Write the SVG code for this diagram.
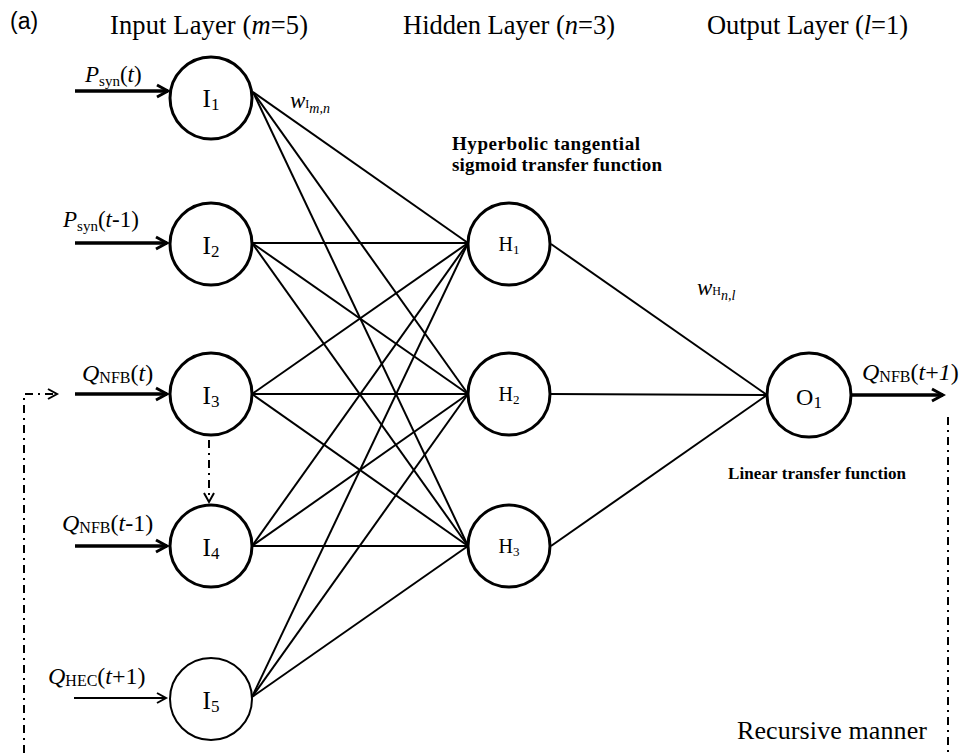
<svg xmlns="http://www.w3.org/2000/svg" width="969" height="753" viewBox="0 0 969 753">
<style>
.t{font-family:"Liberation Serif","Times New Roman",serif;fill:#000}
.i{font-style:italic}
.node{fill:#fff;stroke:#000;stroke-width:3}
.thin{stroke-width:2}
.c{stroke:#000;stroke-width:2;fill:none}
.in{stroke:#000;stroke-width:3.5;fill:none}
.dd{stroke:#000;stroke-width:2;fill:none;stroke-dasharray:8 5 2 5}
.fn{font-weight:bold}
</style>
<defs>
<marker id="ah" markerUnits="userSpaceOnUse" markerWidth="16" markerHeight="16" refX="13" refY="8" orient="auto">
<path d="M2,2 L13,8 L2,14" fill="none" stroke="#000" stroke-width="3"/>
</marker>
<marker id="ahs" markerUnits="userSpaceOnUse" markerWidth="16" markerHeight="16" refX="12" refY="8" orient="auto">
<path d="M3,3 L12,8 L3,13" fill="none" stroke="#000" stroke-width="2"/>
</marker>
</defs>
<rect width="969" height="753" fill="#fff"/>

<text x="10" y="29" style="font-family:'Liberation Sans',Arial,sans-serif;font-size:23px">(a)</text>
<text class="t" x="110" y="34" font-size="26.5" textLength="198">Input Layer (<tspan class="i">m</tspan>=5)</text>
<text class="t" x="403" y="34" font-size="26.5" textLength="212">Hidden Layer (<tspan class="i">n</tspan>=3)</text>
<text class="t" x="707" y="34" font-size="26.5" textLength="201">Output Layer (<tspan class="i">l</tspan>=1)</text>

<g id="connectors">
<line class="c" x1="253" y1="92" x2="468" y2="243"/>
<line class="c" x1="253" y1="92" x2="468" y2="394"/>
<line class="c" x1="253" y1="92" x2="468" y2="546"/>
<line class="c" x1="252" y1="243" x2="468" y2="243"/>
<line class="c" x1="252" y1="243" x2="468" y2="394"/>
<line class="c" x1="252" y1="243" x2="468" y2="546"/>
<line class="c" x1="252" y1="394" x2="468" y2="243"/>
<line class="c" x1="252" y1="394" x2="468" y2="394"/>
<line class="c" x1="252" y1="394" x2="468" y2="546"/>
<line class="c" x1="252" y1="546" x2="468" y2="243"/>
<line class="c" x1="252" y1="546" x2="468" y2="394"/>
<line class="c" x1="252" y1="546" x2="468" y2="546"/>
<line class="c" x1="252" y1="697" x2="468" y2="243"/>
<line class="c" x1="252" y1="697" x2="468" y2="394"/>
<line class="c" x1="252" y1="697" x2="468" y2="546"/>
<line class="c" x1="551" y1="244" x2="767" y2="395"/>
<line class="c" x1="550" y1="394" x2="767" y2="395"/>
<line class="c" x1="551" y1="546" x2="767" y2="395"/>
<line class="in" x1="75" y1="91" x2="168" y2="91" marker-end="url(#ah)"/>
<line class="in" x1="75" y1="243" x2="167" y2="243" marker-end="url(#ah)"/>
<line class="in" x1="75" y1="394" x2="167" y2="394" marker-end="url(#ah)"/>
<line class="in" x1="75" y1="546" x2="167" y2="546" marker-end="url(#ah)"/>
<line class="c" x1="74" y1="698" x2="166" y2="698" marker-end="url(#ahs)"/>
<line class="in" x1="852" y1="395" x2="943" y2="395" marker-end="url(#ah)"/>
<line class="dd" x1="209" y1="440" x2="209" y2="502" marker-end="url(#ahs)"/>
<polyline class="dd" points="24,753 24,394 57,394" marker-end="url(#ahs)"/>
<line class="dd" x1="948" y1="417" x2="948" y2="753"/>
</g>

<g id="I1"><circle class="node" cx="211" cy="98" r="41"/><text class="t" x="211" y="107" font-size="25" text-anchor="middle">I<tspan font-size="17" dy="3">1</tspan></text></g>
<g id="I2"><circle class="node" cx="211" cy="244" r="41"/><text class="t" x="211" y="254" font-size="25" text-anchor="middle">I<tspan font-size="17" dy="3">2</tspan></text></g>
<g id="I3"><circle class="node" cx="211" cy="394" r="41"/><text class="t" x="211" y="404" font-size="25" text-anchor="middle">I<tspan font-size="17" dy="3">3</tspan></text></g>
<g id="I4"><circle class="node" cx="211" cy="546" r="41"/><text class="t" x="211" y="556" font-size="25" text-anchor="middle">I<tspan font-size="17" dy="3">4</tspan></text></g>
<g id="I5"><circle class="node thin" cx="211" cy="699" r="41"/><text class="t" x="211" y="709" font-size="25" text-anchor="middle">I<tspan font-size="17" dy="3">5</tspan></text></g>

<g id="H1"><circle class="node" cx="509" cy="244" r="41"/><text class="t" x="509" y="251" font-size="20" text-anchor="middle">H<tspan font-size="13" dy="3">1</tspan></text></g>
<g id="H2"><circle class="node" cx="509" cy="394" r="41"/><text class="t" x="509" y="401" font-size="20" text-anchor="middle">H<tspan font-size="13" dy="3">2</tspan></text></g>
<g id="H3"><circle class="node" cx="509" cy="546" r="41"/><text class="t" x="509" y="553" font-size="20" text-anchor="middle">H<tspan font-size="13" dy="3">3</tspan></text></g>

<g id="O1"><circle class="node" cx="809" cy="395" r="42"/><text class="t" x="809" y="405" font-size="24" text-anchor="middle">O<tspan font-size="17" dy="3">1</tspan></text></g>

<text class="t" x="85" y="82" font-size="23"><tspan class="i">P</tspan><tspan font-size="15" dy="4">syn</tspan><tspan dy="-4">(</tspan><tspan class="i">t</tspan>)</text>
<text class="t" x="63" y="227" font-size="23"><tspan class="i">P</tspan><tspan font-size="15" dy="4">syn</tspan><tspan dy="-4">(</tspan><tspan class="i">t</tspan>-1)</text>
<text class="t" x="82" y="381" font-size="24"><tspan class="i">Q</tspan><tspan font-size="16" dy="2">NFB</tspan><tspan dy="-2">(</tspan><tspan class="i">t</tspan>)</text>
<text class="t" x="62" y="531" font-size="24"><tspan class="i">Q</tspan><tspan font-size="16" dy="2">NFB</tspan><tspan dy="-2">(</tspan><tspan class="i">t</tspan>-1)</text>
<text class="t" x="48" y="684" font-size="24"><tspan class="i">Q</tspan><tspan font-size="16" dy="2">HEC</tspan><tspan dy="-2">(</tspan><tspan class="i">t</tspan>+1)</text>
<text class="t" x="862" y="380" font-size="24"><tspan class="i">Q</tspan><tspan font-size="16" dy="2">NFB</tspan><tspan dy="-2">(</tspan><tspan class="i">t</tspan>+<tspan class="i">1</tspan>)</text>

<text class="t" x="290" y="108" font-size="23"><tspan class="i">w</tspan><tspan font-size="12" dy="0">I</tspan><tspan class="i" font-size="14" dy="5">m,n</tspan></text>
<text class="t" x="697" y="295" font-size="23"><tspan class="i">w</tspan><tspan font-size="12" dy="0">H</tspan><tspan class="i" font-size="14" dy="5">n,l</tspan></text>

<text class="t fn" x="452" y="150" font-size="19" textLength="188">Hyperbolic tangential</text>
<text class="t fn" x="452" y="171" font-size="19" textLength="210">sigmoid transfer function</text>
<text class="t fn" x="728" y="479" font-size="17" textLength="178">Linear transfer function</text>
<text class="t" x="737" y="739" font-size="26" textLength="190">Recursive manner</text>
</svg>
